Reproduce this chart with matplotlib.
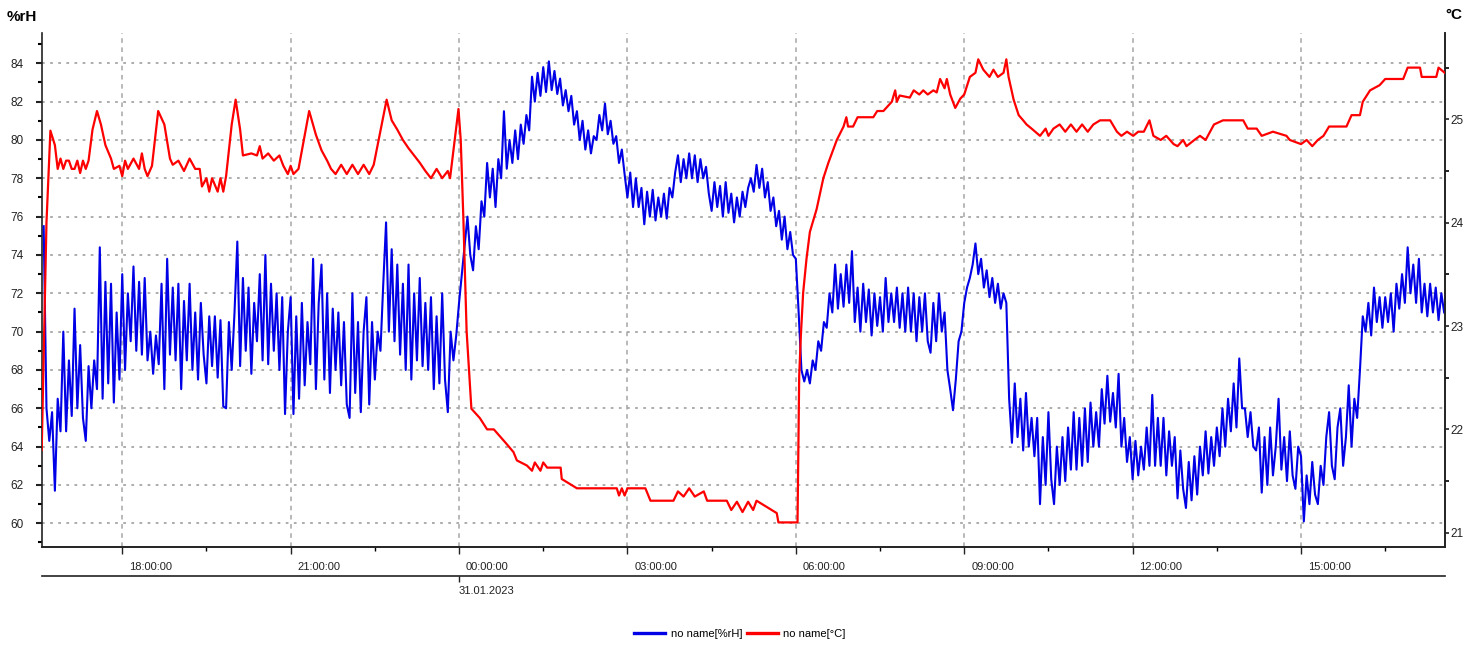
import numpy as np
import matplotlib
matplotlib.use("Agg")
import matplotlib.pyplot as plt
from matplotlib.ticker import FixedLocator, MultipleLocator, FuncFormatter
from matplotlib.transforms import ScaledTranslation
from matplotlib.lines import Line2D

plt.rcParams['font.family'] = ['Liberation Sans Narrow', 'Liberation Sans', 'DejaVu Sans']

# hours since 30.01.2023 00:00 ; humidity read every 3 minutes from 16:36
hum_start = 16.6
hum_step = 0.05
hum_v = [
    75.5, 66.0, 64.3, 65.8, 61.7, 66.5, 64.8, 70.0,                                                # 16.6
    64.8, 68.5, 65.6, 71.2, 66.0, 69.3, 65.5, 64.3, 68.2, 66.0, 68.5, 67.0, 74.4, 66.5, 72.6, 67.3, 72.5, 66.3, 71.0, 67.5,  # 17
    73.0, 68.0, 72.0, 69.5, 73.4, 69.0, 72.6, 68.8, 72.8, 68.5, 70.0, 67.8, 69.8, 68.3, 72.5, 67.0, 73.8, 68.8, 72.3, 68.5,  # 18
    72.5, 67.0, 71.6, 68.5, 72.5, 68.0, 71.0, 67.5, 71.5, 68.8, 67.3, 70.8, 68.2, 70.8, 67.6, 70.6, 66.1, 66.0, 70.5, 68.0,  # 19
    71.0, 74.7, 68.2, 72.8, 69.0, 72.3, 67.8, 71.5, 69.5, 73.0, 68.5, 74.0, 68.3, 72.5, 69.0, 72.0, 68.0, 71.8, 65.7, 70.0,  # 20
    71.8, 65.7, 70.8, 66.5, 71.5, 67.2, 70.5, 68.3, 73.8, 67.0, 71.5, 73.5, 67.5, 72.0, 66.8, 71.2, 68.0, 71.0, 67.2, 70.5,  # 21
    66.2, 65.5, 72.0, 66.8, 70.5, 65.8, 70.0, 71.8, 66.2, 70.5, 67.5, 70.0, 69.0, 72.5, 75.7, 70.0, 74.3, 69.5, 73.5, 68.8,  # 22
    72.5, 68.0, 73.5, 67.5, 72.0, 68.5, 72.8, 68.2, 71.5, 68.0, 71.8, 67.0, 70.8, 67.3, 72.0, 67.5, 65.8, 70.0, 68.5, 69.8,  # 23
    71.5, 73.0, 74.5, 76.0, 74.0, 73.2, 75.5, 74.3, 76.8, 76.0, 78.8, 77.0, 78.5, 76.5, 79.0, 78.0, 81.5, 78.5, 80.0, 78.8,  # 00
    80.5, 79.0, 80.8, 79.8, 81.3, 80.5, 83.3, 82.0, 83.5, 82.3, 83.8, 82.5, 84.1, 82.6, 83.6, 82.4, 83.2, 81.8, 82.6, 81.5,  # 01
    82.3, 80.8, 81.5, 80.0, 81.0, 79.5, 80.5, 79.3, 80.2, 80.0, 81.3, 80.5, 81.9, 80.3, 81.0, 79.8, 80.2, 78.8, 79.5, 78.2,  # 02
    77.0, 78.3, 76.5, 78.0, 76.5, 77.5, 75.6, 77.3, 76.0, 77.4, 75.8, 77.0, 76.0, 77.2, 75.9, 77.5, 77.0, 78.3, 79.2, 77.8,  # 03
    79.0, 78.0, 79.3, 78.0, 79.2, 77.8, 79.0, 78.0, 78.6, 77.2, 76.3, 77.8, 76.5, 77.6, 76.0, 77.8, 76.2, 77.2, 75.7, 77.0,  # 04
    76.0, 77.3, 76.5, 77.5, 78.0, 77.3, 78.7, 77.5, 78.5, 77.0, 77.8, 76.3, 77.0, 75.5, 76.3, 74.8, 76.0, 74.3, 75.2, 74.0,  # 05
    73.8, 71.0, 68.0, 67.4, 68.0, 67.3, 68.5, 68.0, 69.5, 69.0, 70.5, 70.2, 72.0, 71.0, 73.5, 71.2, 73.0, 71.3, 73.5, 71.5,  # 06
    74.2, 70.5, 72.3, 70.0, 72.5, 70.5, 72.2, 69.8, 72.0, 70.3, 71.8, 70.0, 72.8, 70.5, 72.0, 70.5, 72.3, 70.2, 72.0, 70.0,  # 07
    72.3, 70.0, 72.0, 69.5, 71.8, 70.0, 72.0, 69.5, 68.9, 71.5, 69.5, 72.0, 70.0, 71.0, 68.0, 67.0, 65.9, 67.5, 69.5, 70.0,  # 08
    71.5, 72.3, 72.8, 73.5, 74.6, 73.0, 73.8, 72.3, 73.2, 71.8, 72.8, 71.5, 72.5, 71.2, 72.0, 71.5, 66.5, 64.2, 67.3, 64.5,  # 09
    66.5, 63.8, 66.8, 64.0, 65.5, 63.5, 65.5, 61.0, 64.5, 62.0, 65.8, 62.3, 61.0, 64.0, 62.0, 64.5, 62.2, 65.0, 62.8, 65.8,  # 10
    62.8, 65.5, 63.0, 66.0, 63.2, 66.3, 64.0, 65.8, 64.0, 67.0, 65.2, 67.7, 65.3, 66.8, 65.0, 67.8, 64.0, 65.5, 63.2, 64.5,  # 11
    62.3, 64.3, 62.5, 64.0, 62.8, 65.0, 63.0, 66.7, 63.0, 65.5, 63.0, 65.5, 62.5, 64.8, 63.0, 64.5, 61.3, 63.8, 61.8, 60.8,  # 12
    63.2, 61.2, 63.5, 61.5, 64.0, 62.5, 64.8, 62.6, 64.5, 63.0, 65.0, 63.5, 66.0, 64.0, 66.5, 64.8, 67.3, 65.0, 68.6, 66.0,  # 13
    66.0, 64.5, 65.8, 64.0, 63.8, 65.0, 61.6, 64.5, 62.0, 65.0, 62.5, 64.0, 66.5, 62.8, 64.5, 62.2, 64.8, 62.5, 61.8, 64.0,  # 14
    63.5, 60.1, 62.5, 61.0, 63.2, 61.5, 61.0, 63.0, 62.0, 64.5, 65.8, 63.0, 62.3, 65.0, 66.0, 63.0, 64.5, 67.2, 64.0, 66.5,  # 15
    65.5, 68.0, 70.8, 70.0, 71.5, 69.8, 72.3, 70.5, 71.8, 70.2, 71.8, 70.5, 72.0, 70.0, 72.5, 71.2, 73.0, 71.5, 74.4, 72.0,  # 16
    73.5, 71.5, 73.8, 71.0, 72.5, 70.8, 72.5, 71.0, 72.3, 70.6, 72.0, 71.0,                                                # 17
]
hum_t = hum_start + hum_step * np.arange(len(hum_v))

temp_t = [
    16.565, 16.65, 16.72, 16.80, 16.85, 16.9, 16.95, 17.0, 17.05, 17.1, 17.15, 17.2, 17.25, 17.3, 17.35, 17.4,
    17.47, 17.55, 17.62, 17.7, 17.8, 17.85, 17.95, 18.0, 18.05, 18.1, 18.2, 18.3, 18.35, 18.4, 18.45, 18.53,
    18.64, 18.75, 18.85, 18.9, 19.0, 19.1, 19.2, 19.3, 19.38, 19.42, 19.5, 19.55, 19.6, 19.7, 19.75, 19.8,
    19.85, 19.95, 20.02, 20.1, 20.15, 20.3, 20.4, 20.45, 20.5, 20.6, 20.7, 20.8, 20.87, 20.95, 21.0, 21.05,
    21.14, 21.33, 21.45, 21.55, 21.65, 21.72, 21.8, 21.9, 22.0, 22.1, 22.2, 22.3, 22.4, 22.48, 22.71, 22.8,
    22.9, 23.0, 23.1, 23.2, 23.3, 23.4, 23.5, 23.6, 23.7, 23.8, 23.84, 23.99, 24.03, 24.076, 24.135, 24.22,
    24.37, 24.5, 24.62, 24.83, 24.97, 25.03, 25.21, 25.3, 25.35, 25.45, 25.5, 25.57, 25.81, 25.83, 26.1, 26.81,
    26.85, 26.9, 26.95, 27.0, 27.05, 27.32, 27.41, 27.82, 27.9, 28.0, 28.1, 28.2, 28.36, 28.42, 28.77, 28.85,
    28.95, 29.05, 29.15, 29.24, 29.3, 29.66, 29.69, 30.03, 30.06, 30.09, 30.13, 30.19, 30.25, 30.37, 30.49, 30.58,
    30.73, 30.85, 30.90, 30.93, 31.02, 31.1, 31.38, 31.45, 31.56, 31.71, 31.77, 31.8, 31.85, 32.03, 32.1, 32.2,
    32.27, 32.35, 32.45, 32.51, 32.57, 32.65, 32.69, 32.75, 32.84, 32.93, 33.0, 33.1, 33.2, 33.25, 33.34, 33.45,
    33.52, 33.6, 33.7, 33.75, 33.79, 33.88, 33.97, 34.05, 34.11, 34.2, 34.35, 34.45, 34.5, 34.59, 34.7, 34.8,
    34.9, 35.0, 35.1, 35.2, 35.3, 35.42, 35.6, 35.72, 35.8, 35.9, 36.01, 36.1, 36.2, 36.3, 36.37, 36.5,
    36.6, 36.73, 36.8, 36.9, 36.96, 37.1, 37.2, 37.3, 37.38, 37.45, 37.61, 37.97, 38.05, 38.21, 38.3, 38.5,
    38.74, 38.8, 39.0, 39.1, 39.2, 39.3, 39.4, 39.5, 39.81, 39.9, 40.05, 40.1, 40.23, 40.4, 40.5, 40.82,
    40.9, 41.0, 41.12, 41.15, 41.41, 41.45, 41.56,
]
temp_v = [
    21.80, 24.00, 24.89, 24.75, 24.52, 24.62, 24.52, 24.60, 24.60, 24.52, 24.52, 24.60, 24.48, 24.60, 24.52, 24.60,
    24.90, 25.08, 24.95, 24.75, 24.62, 24.52, 24.55, 24.45, 24.60, 24.52, 24.62, 24.52, 24.67, 24.52, 24.45, 24.55,
    25.08, 24.95, 24.62, 24.56, 24.60, 24.50, 24.62, 24.52, 24.52, 24.35, 24.43, 24.30, 24.43, 24.30, 24.43, 24.30,
    24.45, 24.95, 25.19, 24.90, 24.65, 24.67, 24.65, 24.74, 24.62, 24.67, 24.60, 24.65, 24.55, 24.47, 24.55, 24.47,
    24.52, 25.08, 24.85, 24.70, 24.60, 24.52, 24.47, 24.56, 24.47, 24.56, 24.47, 24.56, 24.47, 24.56, 25.19, 24.99,
    24.90, 24.80, 24.72, 24.65, 24.58, 24.50, 24.43, 24.52, 24.43, 24.50, 24.43, 25.10, 24.80, 24.06, 22.95, 22.20,
    22.11, 22.00, 22.00, 21.87, 21.78, 21.70, 21.65, 21.60, 21.68, 21.60, 21.68, 21.63, 21.63, 21.52, 21.43, 21.43,
    21.36, 21.43, 21.36, 21.43, 21.43, 21.43, 21.31, 21.31, 21.40, 21.35, 21.43, 21.35, 21.40, 21.31, 21.31, 21.22,
    21.30, 21.20, 21.30, 21.22, 21.31, 21.19, 21.10, 21.10, 22.52, 22.91, 23.32, 23.65, 23.91, 24.13, 24.43, 24.58,
    24.80, 24.93, 25.02, 24.93, 24.93, 25.02, 25.02, 25.08, 25.08, 25.17, 25.28, 25.17, 25.23, 25.21, 25.28, 25.24,
    25.28, 25.24, 25.28, 25.26, 25.39, 25.30, 25.39, 25.24, 25.11, 25.20, 25.24, 25.41, 25.45, 25.58, 25.48, 25.41,
    25.48, 25.41, 25.45, 25.58, 25.41, 25.19, 25.04, 24.99, 24.95, 24.91, 24.84, 24.91, 24.84, 24.91, 24.95, 24.88,
    24.95, 24.88, 24.95, 24.88, 24.95, 24.99, 24.99, 24.88, 24.84, 24.88, 24.84, 24.88, 24.88, 24.99, 24.84, 24.80,
    24.84, 24.76, 24.74, 24.80, 24.74, 24.80, 24.84, 24.80, 24.88, 24.95, 24.99, 24.99, 24.91, 24.91, 24.84, 24.88,
    24.84, 24.80, 24.76, 24.80, 24.74, 24.80, 24.84, 24.93, 24.93, 25.04, 25.04, 25.17, 25.28, 25.33, 25.39, 25.39,
    25.50, 25.50, 25.50, 25.41, 25.41, 25.50, 25.45,
]

time_ticks = [18, 21, 24, 27, 30, 33, 36, 39]
date_tick = 24
date_label = "31.01.2023"

W, H = 1484, 650
fig = plt.figure(figsize=(W / 100, H / 100), dpi=100)
ax = fig.add_axes([41.7 / W, 1 - 546.7 / H, (1445 - 41.7) / W, (546.7 - 33.3) / H])
ax2 = ax.twinx()

grid_col = '#a6a6a6'
blue = '#0000e6'
red = '#ff0000'
ax.set_xlim(16.565, 41.565)
ax.set_ylim(58.78, 85.565)
ax2.set_ylim(20.865, 25.832)

ax.plot(hum_t, hum_v, color=blue, lw=1.5, zorder=3)
ax2.plot(temp_t, temp_v, color=red, lw=1.6, zorder=3)

# x axis
ax.xaxis.set_major_locator(FixedLocator(time_ticks))
ax.xaxis.set_minor_locator(FixedLocator([t + 1.5 for t in [15] + time_ticks]))
ax.xaxis.set_major_formatter(FuncFormatter(lambda v, p: "%02d:00:00" % (int(round(v)) % 24)))
ax.tick_params(axis='x', which='major', length=5, width=1, pad=6, labelsize=8, colors='#222222')
ax.tick_params(axis='x', which='minor', length=3, width=1)
shift = ScaledTranslation(5 / 72, 0, fig.dpi_scale_trans)
for lbl in ax.get_xticklabels():
    lbl.set_horizontalalignment('left')
    lbl.set_transform(lbl.get_transform() + shift)

# left axis
ax.yaxis.set_major_locator(MultipleLocator(2))
ax.yaxis.set_minor_locator(MultipleLocator(1))
ax.tick_params(axis='y', which='major', length=4, width=1.5, pad=9, labelsize=8.5, colors='#222222')
ax.tick_params(axis='y', which='minor', length=3, width=1.5)

# right axis
ax2.yaxis.set_major_locator(MultipleLocator(1))
ax2.yaxis.set_minor_locator(MultipleLocator(0.5))
ax2.tick_params(axis='y', which='major', length=3, width=1.2, pad=1, labelsize=8.5, colors='#222222')
ax2.tick_params(axis='y', which='minor', length=3, width=1.2)

ax.grid(True, axis='y', which='major', color=grid_col, linestyle=(0, (1.5, 3)), lw=1.3)
ax.grid(True, axis='x', which='major', color=grid_col, linestyle=(0, (3, 3)), lw=1.1)
ax.set_axisbelow(True)

for a in (ax, ax2):
    a.spines['top'].set_visible(False)
    for s in ('left', 'right', 'bottom'):
        a.spines[s].set_color('#222222')
        a.spines[s].set_linewidth(1.2)
ax2.spines['left'].set_visible(False)

# date line under the time labels
sec = ax.secondary_xaxis(-29.3 / 513.4)
sec.set_xticks([date_tick])
sec.set_xticklabels([date_label])
sec.tick_params(length=4, width=1, pad=3, labelsize=8, colors='#222222')
sec.spines['bottom'].set_color('#222222')
sec.spines['bottom'].set_linewidth(1.2)
for lbl in sec.get_xticklabels():
    lbl.set_horizontalalignment('left')

fig.text(7 / W, 1 - 17 / H, "%rH", fontsize=11, fontweight='bold', ha='left', va='center')
fig.text(1445 / W, 1 - 15 / H, "°C", fontsize=11, fontweight='bold', ha='left', va='center')

handles = [Line2D([], [], color=blue, lw=2.4), Line2D([], [], color=red, lw=2.4)]
fig.legend(handles, ['no name[%rH]', 'no name[°C]'], loc='center', bbox_to_anchor=(740 / W, 1 - 634 / H),
           ncol=2, frameon=False, fontsize=8, handlelength=2.8, handletextpad=0.5, columnspacing=0.4)

fig.savefig("out.png", dpi=100)
